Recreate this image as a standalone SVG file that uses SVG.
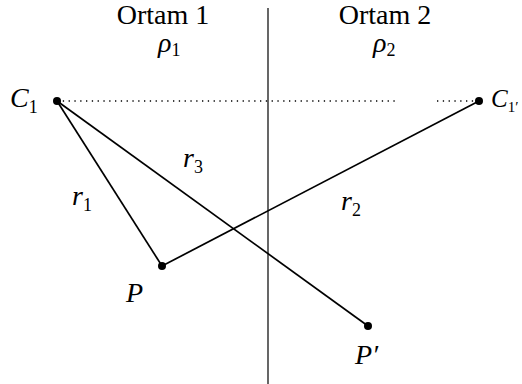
<svg xmlns="http://www.w3.org/2000/svg" width="522" height="384" viewBox="0 0 522 384">
<style>
text{font-family:"Liberation Serif","DejaVu Serif","Times New Roman",serif;font-size:28px;fill:#000}
.i{font-style:italic}
.s{font-size:18px;font-style:normal}
.ln{stroke:#000;stroke-width:1.7;fill:none}
.dot{fill:#000}
</style>
<rect width="522" height="384" fill="#fff"/>
<g id="boundary">
<line x1="268" y1="8" x2="268" y2="384" stroke="#000" stroke-width="1.2"/>
</g>
<g id="headers">
<text x="163" y="24" text-anchor="middle">Ortam 1</text>
<text x="385" y="24" text-anchor="middle">Ortam 2</text>
<text class="i" x="158" y="52">ρ<tspan class="s" dy="4">1</tspan></text>
<text class="i" x="373" y="52">ρ<tspan class="s" dy="4">2</tspan></text>
</g>
<g id="connectors">
<line x1="57" y1="101" x2="397" y2="101" stroke="#000" stroke-width="1.3" stroke-dasharray="1.3,4.5"/>
<line x1="437" y1="101" x2="479" y2="101" stroke="#000" stroke-width="1.3" stroke-dasharray="1.3,4.5"/>
<line class="ln" x1="57" y1="101" x2="162" y2="266"/>
<line class="ln" x1="57" y1="101" x2="368" y2="326"/>
<line class="ln" x1="162" y1="266" x2="479" y2="101"/>
<text class="i" x="72" y="205">r<tspan class="s" dy="6">1</tspan></text>
<text class="i" x="183" y="167">r<tspan class="s" dy="6">3</tspan></text>
<text class="i" x="341" y="210">r<tspan class="s" dy="6">2</tspan></text>
</g>
<g id="C1">
<circle class="dot" cx="57" cy="101" r="4"/>
<text class="i" x="10" y="107">C<tspan class="s" dy="6">1</tspan></text>
</g>
<g id="C1prime">
<circle class="dot" cx="479" cy="101" r="4"/>
<text class="i" x="491" y="107" style="font-size:25px">C<tspan style="font-size:15px;font-style:normal" dy="5">1′</tspan></text>
</g>
<g id="P">
<circle class="dot" cx="162" cy="266" r="4"/>
<text class="i" x="126" y="302">P</text>
</g>
<g id="Pprime">
<circle class="dot" cx="368" cy="326" r="4"/>
<text class="i" x="355" y="364">P′</text>
</g>
</svg>
